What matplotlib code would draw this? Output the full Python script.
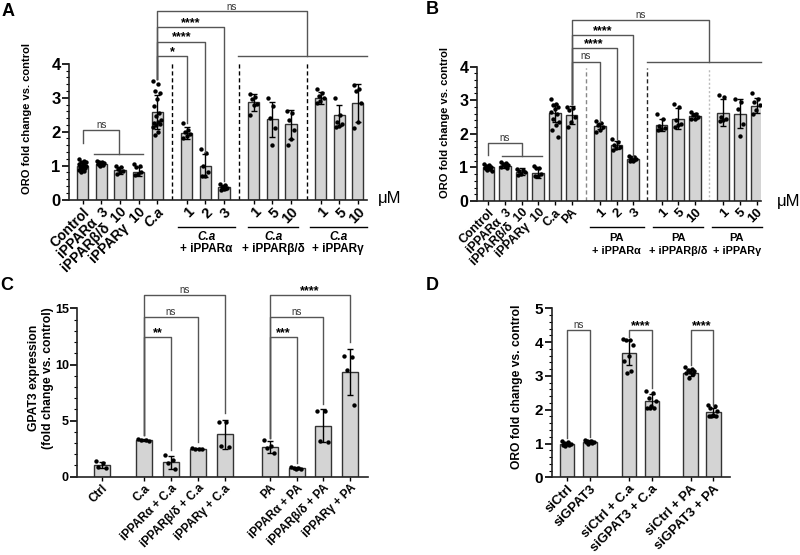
import numpy as np
import matplotlib
matplotlib.use('Agg')
import matplotlib.pyplot as plt
from matplotlib.ticker import FixedLocator

plt.rcParams['font.family'] = ['Liberation Sans', 'DejaVu Sans']

# ---------------- data ----------------
# A: ORO, C. albicans + PPAR inhibitors
a_labels = ['Control', 'iPPARα  3', 'iPPARβ/δ  10', 'iPPARγ  10', 'C.a',
            '1', '2', '3', '1', '5', '10', '1', '5', '10']
a_mean = [1.0, 1.06, 0.86, 0.82, 2.59, 1.96, 1.0, 0.36, 2.87, 2.37, 2.22, 3.0, 2.48, 2.85]
a_sd = [0.1, 0.06, 0.1, 0.13, 0.5, 0.17, 0.33, 0.07, 0.25, 0.52, 0.43, 0.18, 0.32, 0.57]
a_pts = [[1.18, 1.15, 1.12, 1.1, 1.08, 1.05, 1.03, 1.0, 0.98, 0.97, 0.95, 0.93, 0.9, 0.88, 0.85, 0.82],
         [1.15, 1.12, 1.1, 1.08, 1.06, 1.05, 1.03, 1.0],
         [1.0, 0.95, 0.9, 0.85, 0.8, 0.75],
         [1.05, 1.0, 0.95, 0.8, 0.75, 0.72],
         [3.5, 3.4, 3.2, 3.15, 2.95, 2.75, 2.55, 2.45, 2.35, 2.3, 2.25, 2.22, 2.2, 2.15, 2.0, 1.9],
         [2.25, 2.05, 1.98, 1.93, 1.88, 1.82],
         [1.5, 1.38, 0.98, 0.8, 0.7, 0.68],
         [0.45, 0.42, 0.38, 0.33, 0.3, 0.28],
         [3.12, 3.02, 2.95, 2.82, 2.78, 2.5],
         [3.0, 2.75, 2.4, 2.1, 1.62],
         [2.6, 2.55, 2.35, 2.05, 1.78, 1.6],
         [3.25, 3.15, 3.05, 3.0, 2.92, 2.85],
         [3.0, 2.5, 2.3, 2.22, 2.18, 2.15],
         [3.38, 3.25, 3.2, 2.85, 2.3, 2.12]]
a_group_top = ['C.a', 'C.a', 'C.a']
a_group_bot = ['+ iPPARα', '+ iPPARβ/δ', '+ iPPARγ']

# B: ORO, palmitic acid + PPAR inhibitors
b_labels = ['Control', 'iPPARα  3', 'iPPARβ/δ  10', 'iPPARγ  10', 'C.a', 'PA',
            '1', '2', '3', '1', '5', '10', '1', '5', '10']
b_mean = [1.0, 1.05, 0.87, 0.82, 2.63, 2.55, 2.23, 1.67, 1.26, 2.27, 2.45, 2.53, 2.63, 2.6, 2.84]
b_sd = [0.07, 0.07, 0.1, 0.15, 0.27, 0.27, 0.1, 0.13, 0.07, 0.18, 0.32, 0.09, 0.4, 0.43, 0.23]
b_pts = [[1.1, 1.07, 1.05, 1.02, 1.0, 0.98, 0.95, 0.93, 0.9],
         [1.15, 1.12, 1.1, 1.08, 1.05, 1.0, 0.98],
         [0.95, 0.92, 0.88, 0.85, 0.8, 0.78],
         [1.05, 0.98, 0.98, 0.8, 0.75, 0.75],
         [3.05, 2.9, 2.85, 2.8, 2.75, 2.65, 2.6, 2.45, 2.35, 2.25, 2.1, 1.9],
         [2.8, 2.78, 2.7, 2.5, 2.35, 2.2],
         [2.38, 2.32, 2.25, 2.2, 2.12, 2.05],
         [1.85, 1.75, 1.68, 1.62, 1.58, 1.52],
         [1.35, 1.3, 1.28, 1.25, 1.2, 1.2],
         [2.6, 2.45, 2.22, 2.18, 2.15, 2.12],
         [2.9, 2.8, 2.4, 2.3, 2.25, 2.2],
         [2.65, 2.6, 2.55, 2.5, 2.45, 2.45],
         [3.15, 3.1, 2.5, 2.45, 2.42, 2.38],
         [3.05, 2.95, 2.75, 2.3, 1.92],
         [3.2, 3.05, 2.95, 2.85, 2.7, 2.6]]
b_group_top = ['PA', 'PA', 'PA']
b_group_bot = ['+ iPPARα', '+ iPPARβ/δ', '+ iPPARγ']

# C: GPAT3 expression
c_labels = ['Ctrl', 'C.a', 'iPPARα + C.a', 'iPPARβ/δ + C.a', 'iPPARγ + C.a',
            'PA', 'iPPARα + PA', 'iPPARβ/δ + PA', 'iPPARγ + PA']
c_mean = [1.04, 3.27, 1.28, 2.5, 3.78, 2.67, 0.75, 4.55, 9.36]
c_sd = [0.3, 0.08, 0.55, 0.03, 1.28, 0.55, 0.08, 1.5, 2.05]
c_pts = [[1.4, 1.2, 0.85, 0.75], [3.4, 3.3, 3.25, 3.2], [1.95, 1.45, 1.2, 0.65],
         [2.52, 2.5, 2.5, 2.48], [4.9, 4.9, 2.7, 2.65], [3.3, 2.7, 2.6, 2.1],
         [0.85, 0.8, 0.75, 0.7, 0.65], [5.9, 5.9, 3.15, 3.1], [10.75, 10.7, 9.5, 6.35]]

# D: ORO with GPAT3 knockdown
d_labels = ['siCtrl', 'siGPAT3', 'siCtrl + C.a', 'siGPAT3 + C.a', 'siCtrl + PA', 'siGPAT3 + PA']
d_mean = [1.0, 1.05, 3.69, 2.27, 3.1, 1.92]
d_sd = [0.04, 0.04, 0.38, 0.2, 0.1, 0.13]
d_pts = [[1.06, 1.04, 1.02, 1.0, 0.99, 0.97, 0.95, 0.94],
         [1.1, 1.08, 1.07, 1.05, 1.04, 1.03, 1.02, 1.0],
         [4.1, 4.07, 4.05, 3.9, 3.6, 3.45, 3.15, 3.1],
         [2.55, 2.5, 2.35, 2.25, 2.1, 2.05, 2.05, 2.05],
         [3.25, 3.2, 3.17, 3.15, 3.12, 3.1, 3.05, 2.95],
         [2.15, 2.1, 2.05, 1.95, 1.85, 1.82, 1.8, 1.8]]

# ---------------- layout ----------------
a_pos = [0, 1, 2, 3, 4, 5.6, 6.6, 7.6, 9.2, 10.2, 11.2, 12.8, 13.8, 14.8]
b_pos = [0, 1, 2, 3, 4, 5, 6.7, 7.7, 8.7, 10.4, 11.4, 12.4, 14.1, 15.1, 16.1]
c_pos = [0, 1.6, 2.6, 3.6, 4.6, 6.3, 7.3, 8.3, 9.3]
d_pos = [0, 1, 2.7, 3.7, 5.4, 6.4]

W, H = 800, 555
BAR = '#d4d4d4'
EDGE = '#333333'
LINE = '#555555'

fig = plt.figure(figsize=(8, 5.55), dpi=100)


def add_ax(x0, x1, ybot, ytop):
    return fig.add_axes([x0 / W, 1 - ybot / H, (x1 - x0) / W, (ybot - ytop) / H])


def draw_bars(ax, pos, mean, sd, pts, width):
    ax.bar(pos, mean, width=width, color=BAR, edgecolor=EDGE, linewidth=1.0, zorder=2)
    ax.errorbar(pos, mean, yerr=sd, fmt='none', ecolor='black', elinewidth=1,
                capsize=2.5, capthick=1, zorder=3)
    for x, vals in zip(pos, pts):
        n = len(vals)
        off = ((np.arange(n) * 0.618) % 1 - 0.5) * width * 0.75
        ax.scatter(x + off, vals, s=10, color='black', linewidths=0, zorder=4)


def style(ax, xlim, ylim, ymax, major, minor, ysize, lw=1.2):
    ax.set_xlim(*xlim)
    ax.set_ylim(*ylim)
    for s in ['top', 'right']:
        ax.spines[s].set_visible(False)
    for s in ['left', 'bottom']:
        ax.spines[s].set_linewidth(lw)
        ax.spines[s].set_color('#222222')
    ax.spines['left'].set_bounds(0, ymax)
    ticks = np.arange(0, ymax + major / 2, major)
    ax.set_yticks(ticks)
    ax.set_yticklabels([f'{t:g}' for t in ticks], fontsize=ysize, fontweight='bold')
    ax.yaxis.set_minor_locator(FixedLocator(np.arange(0, ymax + 1e-9, minor)))
    ax.tick_params(axis='y', which='major', length=5, width=1.2, pad=1)
    ax.tick_params(axis='y', which='minor', length=2.5, width=0.8)
    ax.tick_params(axis='x', length=3, width=1, pad=1)


def set_xlabels(ax, pos, labels, sizes, rot=45):
    ax.set_xticks(pos)
    ax.set_xticklabels(labels, rotation=rot, ha='right', rotation_mode='anchor',
                       fontweight='bold')
    for lbl, fs in zip(ax.get_xticklabels(), sizes):
        lbl.set_fontsize(fs)


def bracket(ax, x1, x2, yl, ytop, yr, label, color=LINE, star=True, fs=9, up=1.5):
    ax.plot([x1, x1, x2, x2], [yl, ytop, ytop, yr], color=color, lw=1,
            clip_on=False, zorder=5)
    if star:
        ax.annotate(label, ((x1 + x2) / 2, ytop), xytext=(0, -1.5), textcoords='offset points',
                    ha='center', va='bottom', fontsize=fs, fontweight='bold',
                    annotation_clip=False)
    else:
        ax.annotate(label, ((x1 + x2) / 2, ytop), xytext=(0, up), textcoords='offset points',
                    ha='center', va='baseline', fontsize=7, color='#333333',
                    annotation_clip=False)


# ---------------- panel A ----------------
axA = add_ax(69, 367, 199.5, 2)
draw_bars(axA, a_pos, a_mean, a_sd, a_pts, 0.6)
style(axA, (-0.74, 15.29), (0, 197.5 / 33.9), 4, 1, 0.2, 12)
set_xlabels(axA, a_pos, a_labels, [10] * 5 + [10.5] * 9)
axA.get_xticklabels()[4].set_style('italic')
for xd in [4.8, 8.4, 12.05]:
    axA.plot([xd, xd], [0, 4.03], color='black', lw=1, ls=(0, (3, 2)), zorder=1)
# ns within controls
axA.plot([0, 0, 1.96, 1.96], [1.66, 2.04, 2.04, 1.33], color=LINE, lw=1, zorder=5)
axA.plot([0.6, 3.25], [1.33, 1.33], color=LINE, lw=1, zorder=5)
axA.text(1.0, 2.12, 'ns', ha='center', va='baseline', fontsize=7, color='#333333')
for x2, top, yr, lab in [(5.6, 4.22, 2.25, '*'), (6.6, 4.66, 1.4, '****'),
                         (7.6, 5.1, 0.56, '****')]:
    bracket(axA, 4, x2, 3.55, top, yr, lab)
bracket(axA, 4, 12.05, 3.55, 5.55, 4.22, 'ns', star=False, up=0.8)
axA.plot([8.35, 15.27], [4.22, 4.22], color=LINE, lw=1, clip_on=False, zorder=5)
for (g0, g1), top, bot in zip([(5.14, 8.19), (8.9, 11.6), (12.2, 15.27)], a_group_top, a_group_bot):
    axA.plot([g0, g1], [-0.8, -0.8], color='black', lw=1, clip_on=False)
    xc = (g0 + g1) / 2
    axA.text(xc, -1.1, top, ha='center', va='center', fontsize=8.5, fontweight='bold',
             style='italic', clip_on=False)
    axA.text(xc, -1.45, bot, ha='center', va='center', fontsize=8.5, fontweight='bold',
             clip_on=False)
axA.text(1.035, 0.02, 'μM', transform=axA.get_yaxis_transform(), fontsize=12,
         ha='left', va='center')
fig.text(27 / W, 1 - 118 / H, 'ORO fold change vs. control', rotation=90,
         ha='center', va='center', fontsize=8, fontweight='bold')

# ---------------- panel B ----------------
axB = add_ax(476.7, 761, 201, 2)
draw_bars(axB, b_pos, b_mean, b_sd, b_pts, 0.7)
style(axB, (-0.7, 16.37), (0, 199 / 33.6), 4, 1, 0.2, 11.5)
set_xlabels(axB, b_pos, b_labels, [8.8] * 6 + [9.5] * 9)
for xd, col, ls in [(5.84, '#888888', (0, (3, 2))), (9.54, '#222222', (0, (3, 2))),
                    (13.26, '#bbbbbb', (0, (1.5, 1.5)))]:
    axB.plot([xd, xd], [0, 3.97], color=col, lw=1, ls=ls, zorder=1)
axB.plot([0, 0, 2.0, 2.0], [1.37, 1.72, 1.72, 1.35], color=LINE, lw=1, zorder=5)
axB.plot([0.8, 3.24], [1.35, 1.35], color=LINE, lw=1, zorder=5)
axB.text(1.0, 1.8, 'ns', ha='center', va='baseline', fontsize=7, color='#333333')
bracket(axB, 5, 6.7, 2.9, 4.15, 2.36, 'ns', star=False)
bracket(axB, 5, 7.7, 2.9, 4.56, 1.84, '****')
bracket(axB, 5, 8.7, 2.9, 4.94, 1.32, '****')
bracket(axB, 5, 13.26, 2.9, 5.39, 4.15, 'ns', star=False)
axB.plot([9.54, 16.37], [4.15, 4.15], color=LINE, lw=1, clip_on=False, zorder=5)
for (g0, g1), top, bot in zip([(6.1, 9.33), (9.9, 12.9), (13.4, 16.45)], b_group_top, b_group_bot):
    axB.plot([g0, g1], [-0.78, -0.78], color='black', lw=1, clip_on=False)
    xc = (g0 + g1) / 2
    axB.text(xc, -1.1, top, ha='center', va='center', fontsize=8, fontweight='bold',
             clip_on=False)
    axB.text(xc, -1.5, bot, ha='center', va='center', fontsize=7.8, fontweight='bold',
             clip_on=False)
axB.text(1.055, 0.0, 'μM', transform=axB.get_yaxis_transform(), fontsize=12,
         ha='left', va='center')
fig.text(445 / W, 1 - 123 / H, 'ORO fold change vs. control', rotation=90,
         ha='center', va='center', fontsize=8, fontweight='bold')

# ---------------- panel C ----------------
axC = add_ax(77.3, 368.3, 476.7, 283)
draw_bars(axC, c_pos, c_mean, c_sd, c_pts, 0.6)
style(axC, (-0.91, 9.98), (0, 193.7 / 11.22), 15, 5, 1, 9)
set_xlabels(axC, c_pos, c_labels, [8.5] * 9)
bracket(axC, 1.6, 2.6, 3.7, 12.48, 2.4, '**')
bracket(axC, 1.6, 3.6, 3.7, 14.26, 3.12, 'ns', star=False)
bracket(axC, 1.6, 4.6, 3.7, 16.2, 5.65, 'ns', star=False)
bracket(axC, 6.3, 7.3, 3.42, 12.48, 1.2, '***')
bracket(axC, 6.3, 8.3, 3.42, 14.26, 6.48, 'ns', star=False)
bracket(axC, 6.3, 9.3, 3.42, 16.2, 12.0, '****')
fig.text(41 / W, 1 - 378 / H, 'GPAT3 expression\n(fold change vs. control)', rotation=90,
         ha='center', va='center', fontsize=8.7, fontweight='bold', linespacing=1.3)

# ---------------- panel D ----------------
axD = add_ax(551.7, 730, 477.3, 300)
draw_bars(axD, d_pos, d_mean, d_sd, d_pts, 0.63)
style(axD, (-0.68, 7.13), (0, 177.3 / 33.8), 5, 1, 0.2, 11)
set_xlabels(axD, d_pos, d_labels, [9.5] * 6)
bracket(axD, 0, 1, 1.15, 4.36, 1.2, 'ns', star=False)
bracket(axD, 2.7, 3.7, 4.16, 4.36, 2.63, '****')
bracket(axD, 5.4, 6.4, 3.32, 4.36, 2.14, '****')
fig.text(517 / W, 1 - 387 / H, 'ORO fold change vs. control', rotation=90,
         ha='center', va='center', fontsize=8.7, fontweight='bold')

# panel letters
for lab, x, y in [('A', 8, 12), ('B', 432, 10), ('C', 7, 285), ('D', 432, 285)]:
    fig.text(x / W, 1 - y / H, lab, fontsize=13, fontweight='bold', ha='center', va='center')

fig.savefig('out.png', dpi=100)
